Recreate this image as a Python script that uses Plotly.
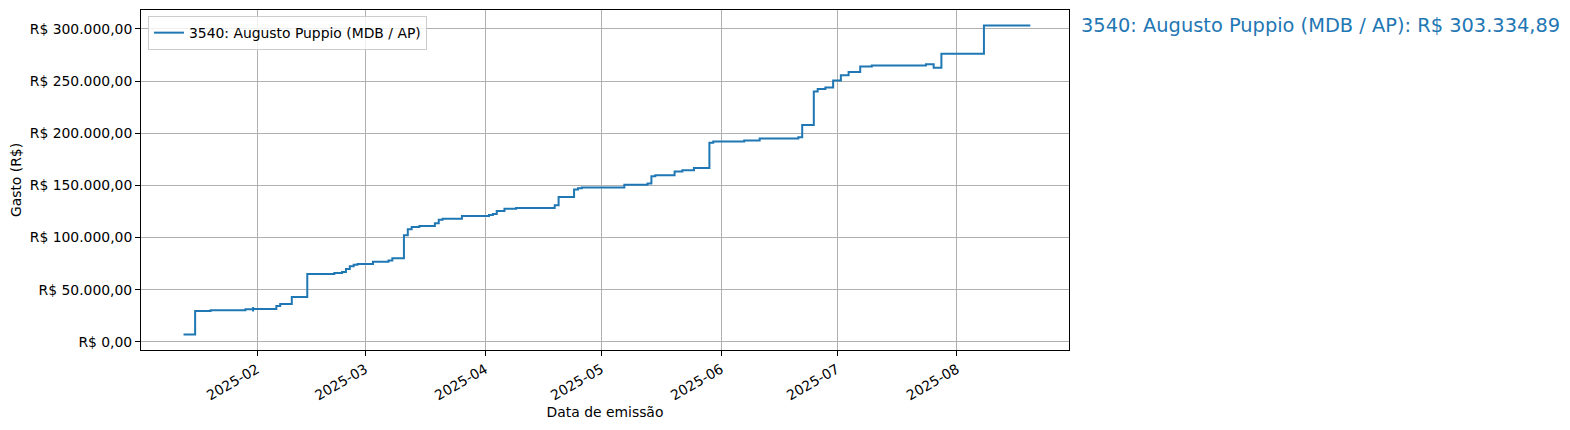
import plotly.graph_objects as go

# Cumulative spending (R$) by issue date
dates = [
    "2025-01-13", "2025-01-16", "2025-01-20", "2025-01-29",
    "2025-01-31", "2025-01-31", "2025-01-31",
    "2025-02-06", "2025-02-07", "2025-02-10", "2025-02-14",
    "2025-02-21", "2025-02-23", "2025-02-24", "2025-02-25",
    "2025-02-26", "2025-02-27",
    "2025-03-03", "2025-03-07", "2025-03-08", "2025-03-11", "2025-03-12",
    "2025-03-13", "2025-03-15", "2025-03-19", "2025-03-20", "2025-03-21",
    "2025-03-26",
    "2025-04-02", "2025-04-03", "2025-04-04", "2025-04-06", "2025-04-09",
    "2025-04-19", "2025-04-20", "2025-04-24", "2025-04-25", "2025-04-26",
    "2025-05-07", "2025-05-13", "2025-05-14", "2025-05-15", "2025-05-20",
    "2025-05-22", "2025-05-25", "2025-05-29", "2025-05-30",
    "2025-06-07", "2025-06-11", "2025-06-21", "2025-06-22",
    "2025-06-25", "2025-06-25", "2025-06-26", "2025-06-28", "2025-06-30",
    "2025-07-02", "2025-07-02", "2025-07-04", "2025-07-07", "2025-07-10",
    "2025-07-24", "2025-07-26", "2025-07-28", "2025-07-28",
    "2025-08-08", "2025-08-20",
]
totals = [
    7000, 29500, 30300, 31300,
    33500, 29000, 31500,
    34300, 36200, 42900, 65000,
    66000, 67000, 69900, 72400,
    74000, 74700,
    76900, 78100, 80100, 102300, 108000,
    110000, 111000, 113800, 117000, 118000,
    120700,
    121500, 122500, 125400, 127600, 128300,
    130900, 138900, 146000, 147300, 147900,
    150500, 151800, 158800, 159800, 163300,
    164600, 166600, 191000, 192000,
    193000, 194900, 196200, 208000,
    211800, 240000, 242500, 243800, 250500,
    252800, 255700, 258600, 264000, 265000,
    266200, 262800, 265800, 276300,
    303334.89, 303334.89,
]

series_name = "3540: Augusto Puppio (MDB / AP)"
final_label = "3540: Augusto Puppio (MDB / AP): R$ 303.334,89"

x_tick_vals = ["2025-02-01", "2025-03-01", "2025-04-01", "2025-05-01",
               "2025-06-01", "2025-07-01", "2025-08-01"]
x_tick_text = ["2025-02", "2025-03", "2025-04", "2025-05",
               "2025-06", "2025-07", "2025-08"]
y_tick_vals = [0, 50000, 100000, 150000, 200000, 250000, 300000]
y_tick_text = ["R$ 0,00", "R$ 50.000,00", "R$ 100.000,00", "R$ 150.000,00",
               "R$ 200.000,00", "R$ 250.000,00", "R$ 300.000,00"]

BLUE = "#1f77b4"
FONT = "DejaVu Sans"

fig = go.Figure()
fig.add_trace(go.Scatter(
    x=dates, y=totals, mode="lines", name=series_name,
    line=dict(shape="hv", color=BLUE, width=2),
))

axis_common = dict(
    showgrid=True, gridcolor="#b0b0b0", gridwidth=1,
    showline=True, mirror=True, linecolor="black", linewidth=1,
    ticks="outside", ticklen=5, tickwidth=1, tickcolor="black",
    zeroline=False,
    tickfont=dict(family=FONT, size=13.9, color="black"),
)

# page body has an 8px margin, so the figure is sized/offset to compensate
fig.update_layout(
    width=1554, height=414,
    margin=dict(l=133, r=493, t=2, b=72, autoexpand=False),
    plot_bgcolor="white", paper_bgcolor="white",
    font=dict(family=FONT, size=13.9, color="black"),
    showlegend=True,
    legend=dict(
        x=0.0075, y=0.982, xanchor="left", yanchor="top",
        bgcolor="rgba(255,255,255,0.8)", bordercolor="#cccccc", borderwidth=1,
        font=dict(family=FONT, size=13.9, color="black"),
    ),
    xaxis=dict(
        type="date", range=["2025-01-02", "2025-08-30"],
        tickvals=x_tick_vals, ticktext=x_tick_text, tickangle=-30,
        title=dict(text="Data de emissão", standoff=4,
                   font=dict(family=FONT, size=13.9, color="black")),
        automargin=False,
        **axis_common,
    ),
    yaxis=dict(
        range=[-7817, 318152],
        tickvals=y_tick_vals, ticktext=y_tick_text,
        title=dict(text="Gasto (R$)", standoff=5,
                   font=dict(family=FONT, size=13.9, color="black")),
        automargin=False,
        **axis_common,
    ),
)

fig.add_annotation(
    text=final_label, xref="paper", x=1, xanchor="left", xshift=10,
    yref="y", y=totals[-1], yanchor="middle", showarrow=False,
    font=dict(family=FONT, size=19.4, color=BLUE),
)

fig.write_html("out.html")
